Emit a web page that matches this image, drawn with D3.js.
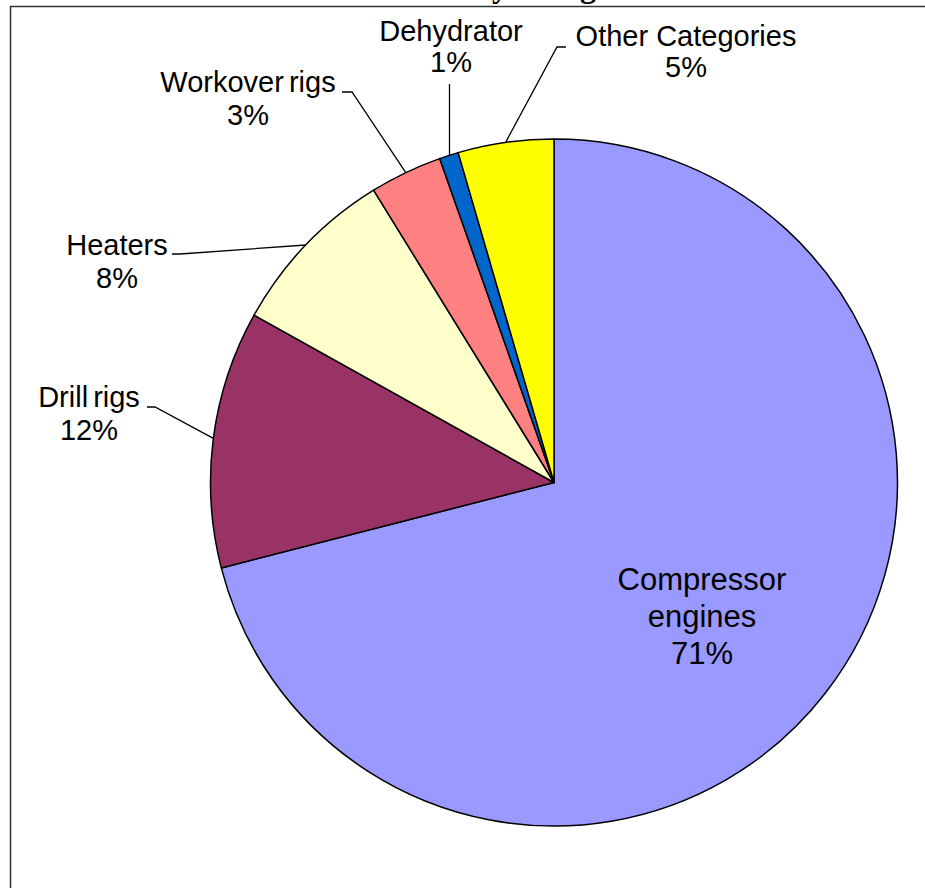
<!DOCTYPE html>
<html>
<head>
<meta charset="utf-8">
<script src="https://cdn.jsdelivr.net/npm/d3@7"></script>
<style>
  html, body { margin: 0; padding: 0; background: #fff; overflow: hidden; }
  svg { display: block; }
</style>
</head>
<body>
<svg id="chart" width="925" height="888"></svg>
<script>
// Share of emissions by source category (percent)
const categories = ["Compressor engines", "Drill rigs", "Heaters", "Workover rigs", "Dehydrator", "Other Categories"];
const shares = [71.0, 12.1, 8.1, 3.4, 0.9, 4.5];
const sliceColors = ["#9999ff", "#993366", "#ffffcc", "#ff8080", "#0066cc", "#ffff00"];
const titleText = "NOx Emissions by Categories";

// Label layout: text lines, centre x, first baseline, line step, font size,
// word spacing, and the leader-line points running from the label towards the slice.
const labelLayout = [
  { lines: ["Compressor", "engines"], x: 702, y: 590, step: 37, size: 31, ws: -3, leader: null },
  { lines: ["Drill rigs"], x: 89, y: 407, step: 33, size: 29, ws: -3, leader: [[147, 407], [155, 407]] },
  { lines: ["Heaters"], x: 117, y: 255, step: 33, size: 29, ws: -3, leader: [[172, 254], [180, 254]] },
  { lines: ["Workover rigs"], x: 248, y: 92, step: 33, size: 29, ws: -3, leader: [[342, 92], [352, 92]] },
  { lines: ["Dehydrator"], x: 451, y: 41, step: 31, size: 29, ws: -3, leader: [["arc", 84]] },
  { lines: ["Other Categories"], x: 686, y: 46, step: 31, size: 29, ws: 0, leader: [[566, 47], [557, 47]] }
];

const svg = d3.select("#chart");
const cx = 554, cy = 482.5, radius = 343.5;

// Title sits above the plot frame, mostly outside the window
const title = svg.append("text")
  .attr("x", 300).attr("y", -3)
  .attr("font-family", "'Liberation Serif', 'Times New Roman', serif")
  .attr("font-weight", "bold")
  .attr("font-size", 32)
  .text(titleText);
const yIdx = titleText.indexOf("by") + 1;
const yBox = title.node().getExtentOfChar(yIdx);
title.attr("x", 300 + (500 - (yBox.x + yBox.width / 2)));

// Plot-area frame
svg.append("path")
  .attr("d", "M10.5,940V6.5H940")
  .attr("fill", "none")
  .attr("stroke", "#333")
  .attr("stroke-width", 1.5);

const pie = d3.pie().sort(null).value(d => d);
const arcs = pie(shares);
const arc = d3.arc().innerRadius(0).outerRadius(radius);

const g = svg.append("g").attr("transform", `translate(${cx},${cy})`);

g.selectAll("path.slice")
  .data(arcs)
  .join("path")
  .attr("class", "slice")
  .attr("d", arc)
  .attr("fill", (d, i) => sliceColors[i])
  .attr("stroke", "#000")
  .attr("stroke-width", 1.5)
  .attr("stroke-linejoin", "round");

// Point on the rim at the middle of a slice
function rimPoint(d) {
  const a = (d.startAngle + d.endAngle) / 2;
  return [cx + radius * Math.sin(a), cy - radius * Math.cos(a)];
}

const line = d3.line();
arcs.forEach((d, i) => {
  const L = labelLayout[i];
  const rim = rimPoint(d);
  if (L.leader) {
    const vertical = L.leader[0][0] === "arc";
    if (vertical) rim[0] = Math.round(rim[0]) + 0.5;
    const pts = L.leader.map(p => [p[0] === "arc" ? rim[0] : p[0], p[1]]);
    pts.push(rim);
    svg.append("path")
      .attr("d", line(pts))
      .attr("fill", "none")
      .attr("stroke", "#000")
      .attr("stroke-width", 1.3);
  }
  const pct = Math.round(shares[i]) + "%";
  const lines = L.lines.concat([pct]);
  const t = svg.append("text")
    .attr("font-family", "'Liberation Sans', Arial, sans-serif")
    .attr("font-size", L.size)
    .attr("word-spacing", L.ws)
    .attr("text-anchor", "middle")
    .attr("fill", "#000");
  lines.forEach((s, k) => {
    t.append("tspan").attr("x", L.x).attr("y", L.y + k * L.step).text(s);
  });
});
</script>
</body>
</html>
